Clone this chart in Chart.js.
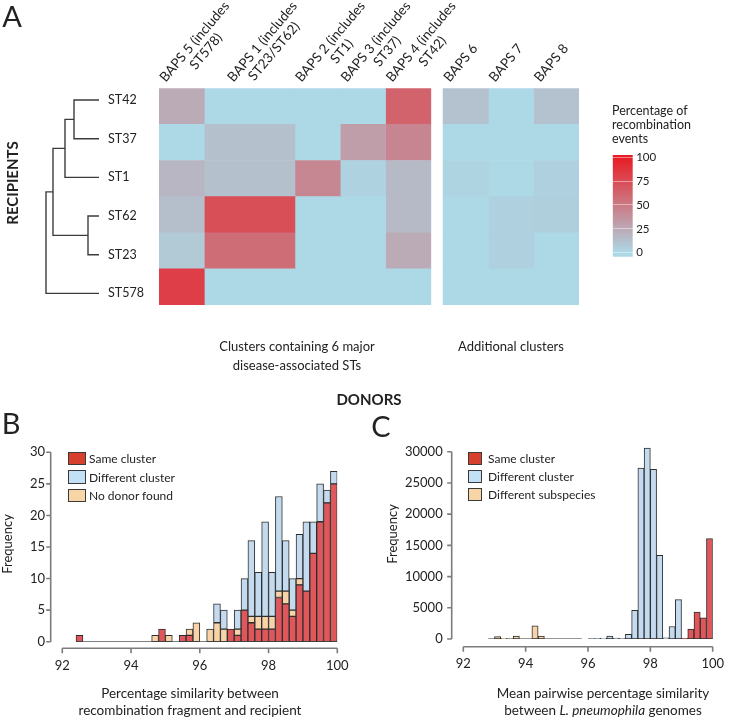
<!DOCTYPE html>
<html>
<head>
<meta charset="utf-8">
<script src="https://cdn.jsdelivr.net/npm/chart.js@4.4.1/dist/chart.umd.min.js"></script>
<style>
  body { margin: 0; background: #fff; font-family: Lato, "Open Sans", sans-serif; color: #222; }
  #page { position: relative; width: 741px; height: 720px; overflow: hidden; }
  canvas { position: absolute; left: 0; top: 0; }
  .t { position: absolute; white-space: nowrap; transform: translate(-50%, -50%); text-align: center; }
  .l { position: absolute; white-space: nowrap; transform: translateY(-50%); }
  .sw { position: absolute; box-sizing: border-box; border: 1px solid #3a3a3a; }
</style>
</head>
<body>
<div id="page">
  <canvas id="dendro" width="741" height="720"></canvas>
  <canvas id="heat" width="741" height="720"></canvas>
  <canvas id="cbar" width="741" height="720"></canvas>
  <canvas id="histB" width="741" height="720"></canvas>
  <canvas id="histC" width="741" height="720"></canvas>

  <div class="t" style="left:12px;top:15px;font-size:29px">A</div>
  <div class="t" style="left:11px;top:422px;font-size:29px">B</div>
  <div class="t" style="left:381px;top:425px;font-size:29px">C</div>

  <div class="t" style="left:12px;top:183px;font-size:15px;font-weight:bold;transform:translate(-50%,-50%) rotate(-90deg)">RECIPIENTS</div>
  <div class="t" style="left:297px;top:356px;font-size:13px;line-height:19px">Clusters containing 6 major<br>disease-associated STs</div>
  <div class="t" style="left:511px;top:346px;font-size:13px">Additional clusters</div>
  <div class="t" style="left:369px;top:399px;font-size:15px;font-weight:bold">DONORS</div>
  <div class="l" style="left:612px;top:125px;font-size:12.5px;line-height:14.2px">Percentage of<br>recombination<br>events</div>

  <div class="t" style="left:7px;top:544px;font-size:13px;transform:translate(-50%,-50%) rotate(-90deg)">Frequency</div>
  <div class="t" style="left:190px;top:702px;font-size:13.5px;line-height:17px">Percentage similarity between<br>recombination fragment and recipient</div>
  <div class="t" style="left:392px;top:534px;font-size:13px;transform:translate(-50%,-50%) rotate(-90deg)">Frequency</div>
  <div class="t" style="left:603px;top:702px;font-size:13.5px;line-height:17px">Mean pairwise percentage similarity<br>between <i>L. pneumophila</i> genomes</div>
  <div id="legends"></div>
</div>

<script>
// ---- panel A: recombination heatmap ----
const recipients = ['ST42', 'ST37', 'ST1', 'ST62', 'ST23', 'ST578'];
const donors = ['BAPS 5', 'BAPS 1', 'BAPS 2', 'BAPS 3', 'BAPS 4', 'BAPS 6', 'BAPS 7', 'BAPS 8'];
const donorLabels = [
  ['BAPS 5 (includes', 'ST578)'],
  ['BAPS 1 (includes', 'ST23/ST62)'],
  ['BAPS 2 (includes', 'ST1)'],
  ['BAPS 3 (includes', 'ST37)'],
  ['BAPS 4 (includes', 'ST42)'],
  ['BAPS 6'], ['BAPS 7'], ['BAPS 8']
];
const colSpan = [1, 2, 1, 1, 1, 1, 1, 1];   // BAPS 1 covers two STs
// percentage of recombination events, one array per recipient (columns follow donors)
const pctST42  = [24, 0, 0, 0, 63, 12, 0, 12];
const pctST37  = [0, 13, 0, 31, 44, 0, 0, 0];
const pctST1   = [18, 13, 43, 3, 16, 2, 0, 4];
const pctST62  = [14, 73, 0, 0, 16, 0, 4, 5];
const pctST23  = [8, 57, 0, 0, 24, 0, 4, 0];
const pctST578 = [82, 0, 0, 0, 0, 0, 0, 0];
const heatRows = [pctST42, pctST37, pctST1, pctST62, pctST23, pctST578];
const legendTicks = [0, 25, 50, 75, 100];

// dendrogram of recipients: pairs of node ids (leaves 0-5, merges 6+) and merge heights
const dendroMerges = [[0, 1], [6, 2], [3, 4], [7, 8], [9, 5]];
const dendroHeights = [25, 34, 11, 46, 53];

// ---- panel B: similarity of recombination fragment to recipient ----
const seriesB = ['Same cluster', 'Different cluster', 'No donor found'];
const binsB = [92.5, 92.7, 92.9, 93.1, 93.3, 93.5, 93.7, 93.9, 94.1, 94.3, 94.5, 94.7, 94.9,
  95.1, 95.3, 95.5, 95.7, 95.9, 96.1, 96.3, 96.5, 96.7, 96.9, 97.1, 97.3, 97.5, 97.7, 97.9,
  98.1, 98.3, 98.5, 98.7, 98.9, 99.1, 99.3, 99.5, 99.7, 99.9];
const sameB =    [1, 0, 0, 0, 0, 0, 0, 0, 0, 0, 0, 0, 2, 0, 0, 1, 1, 0, 0, 0, 0, 0, 2, 1, 5, 3, 2, 2, 2, 7, 6, 4, 9, 8, 14, 19, 22, 25];
const noDonorB = [0, 0, 0, 0, 0, 0, 0, 0, 0, 0, 0, 1, 0, 1, 0, 0, 1, 3, 0, 2, 3, 2, 0, 1, 0, 1, 2, 2, 2, 1, 2, 1, 1, 0, 0, 0, 0, 0];
const diffB =    [0, 0, 0, 0, 0, 0, 0, 0, 0, 0, 0, 0, 0, 0, 0, 0, 0, 0, 0, 0, 3, 3, 0, 3, 5, 12, 7, 15, 7, 15, 8, 5, 7, 11, 5, 6, 2, 2];
const xTicks = [92, 94, 96, 98, 100];
const yTicksB = [0, 5, 10, 15, 20, 25, 30];

// ---- panel C: mean pairwise similarity between genomes ----
const seriesC = ['Same cluster', 'Different cluster', 'Different subspecies'];
const binsC = [92.9, 93.1, 93.3, 93.5, 93.7, 93.9, 94.1, 94.3, 94.5, 94.7, 94.9, 95.1, 95.3, 95.5, 95.7,
  96.1, 96.3, 96.5, 96.7, 96.9, 97.1, 97.3, 97.5, 97.7, 97.9, 98.1, 98.3, 98.5, 98.7, 98.9,
  99.1, 99.3, 99.5, 99.7, 99.9];
const sameC  = [0, 0, 0, 0, 0, 0, 0, 0, 0, 0, 0, 0, 0, 0, 0,
  0, 0, 0, 0, 0, 0, 0, 0, 0, 0, 0, 0, 0, 0, 0, 120, 1600, 4300, 3400, 16100];
const subspC = [0, 400, 120, 0, 450, 0, 0, 2100, 450, 0, 0, 0, 0, 0, 0,
  0, 0, 0, 0, 0, 0, 0, 0, 0, 0, 0, 0, 0, 0, 0, 0, 0, 0, 0, 0];
const diffC  = [0, 0, 0, 0, 0, 0, 0, 0, 0, 0, 0, 0, 0, 0, 0,
  0, 60, 100, 450, 150, 80, 750, 4600, 27400, 30600, 27200, 13400, 200, 2000, 6300, 0, 0, 0, 0, 0];
const yTicksC = [0, 5000, 10000, 15000, 20000, 25000, 30000];

// ---------------------------------------------------------------
const FONT = 'Lato, "Open Sans", sans-serif';
Chart.defaults.font.family = FONT;
Chart.defaults.color = '#222';
Chart.defaults.animation = false;
Chart.defaults.responsive = false;
Chart.defaults.plugins.legend.display = false;
Chart.defaults.plugins.tooltip.enabled = false;

const heatLow = [173, 216, 230];
const heatHigh = [232, 28, 36];
function heatColor(v) {
  const t = Math.max(0, Math.min(1, v / 100));
  const c = heatLow.map((a, i) => Math.round(a + (heatHigh[i] - a) * t));
  return `rgb(${c.join(',')})`;
}

// column extents on the heatmap's x scale (small gap before the additional clusters)
const gapAfter = 4, gapWidth = 0.27;
let cursor = 0;
const colEdges = colSpan.map((w, i) => {
  const e = [cursor, cursor + w];
  cursor += w + (i === gapAfter ? gapWidth : 0);
  return e;
});
const heatWidth = cursor;

// dendrogram
const nodeY = recipients.map((_, i) => i);
const nodeH = recipients.map(() => 0);
const dendroSegments = dendroMerges.map(([a, b], k) => {
  const h = dendroHeights[k];
  nodeY.push((nodeY[a] + nodeY[b]) / 2);
  nodeH.push(h);
  return [
    { x: nodeH[a], y: nodeY[a] }, { x: h, y: nodeY[a] },
    { x: h, y: nodeY[b] }, { x: nodeH[b], y: nodeY[b] }
  ];
});

new Chart(document.getElementById('dendro'), {
  type: 'scatter',
  data: {
    datasets: dendroSegments.map(pts => ({
      data: pts, showLine: true, borderColor: '#3c3c3c', borderWidth: 1.4,
      pointRadius: 0, clip: false
    }))
  },
  options: {
    layout: { padding: { left: 46, top: 80.7, right: 581, bottom: 407.3 } },
    scales: {
      x: { type: 'linear', reverse: true, min: 0, max: 53, display: false },
      y: {
        type: 'linear', position: 'right', reverse: true, min: -0.5, max: 5.5,
        grid: { display: false, drawTicks: false }, border: { display: false },
        ticks: { padding: 9, font: { size: 12.5 }, color: '#222', callback: v => recipients[v] },
        afterBuildTicks: s => { s.ticks = recipients.map((_, i) => ({ value: i })); },
        afterFit: s => { s.width = 61; }
      }
    }
  }
});

const colLabels = {
  id: 'colLabels',
  afterDraw(chart) {
    const { ctx, scales: { x }, chartArea } = chart;
    ctx.save();
    ctx.font = '13.5px ' + FONT;
    ctx.fillStyle = '#222';
    ctx.textBaseline = 'alphabetic';
    donorLabels.forEach((lines, j) => {
      const cx = x.getPixelForValue((colEdges[j][0] + colEdges[j][1]) / 2);
      ctx.save();
      ctx.translate(cx - 16, chartArea.top - 5.5);
      ctx.rotate(-50 * Math.PI / 180);
      const w0 = ctx.measureText(lines[0]).width;
      lines.forEach((s, k) => {
        const w = ctx.measureText(s).width;
        ctx.fillText(s, (w0 - w) / 2, k * 15);
      });
      ctx.restore();
    });
    ctx.restore();
  }
};

new Chart(document.getElementById('heat'), {
  type: 'bar',
  data: {
    labels: recipients,
    datasets: donors.map((name, j) => ({
      label: name,
      data: recipients.map(() => colEdges[j]),
      backgroundColor: heatRows.map(r => heatColor(r[j])),
      borderWidth: 0, grouped: false, barPercentage: 1, categoryPercentage: 1
    }))
  },
  options: {
    indexAxis: 'y',
    layout: { padding: { left: 159, right: 162, top: 88.3, bottom: 415 } },
    scales: {
      x: { type: 'linear', min: 0, max: heatWidth, offset: false, display: false },
      y: { type: 'category', offset: true, display: false }
    }
  },
  plugins: [colLabels]
});

// colour key
const cbarMin = -4.2, cbarMax = 102.4;
new Chart(document.getElementById('cbar'), {
  type: 'bar',
  data: {
    labels: [''],
    datasets: [{
      data: [[cbarMin, cbarMax]],
      backgroundColor: c => {
        const ch = c.chart;
        if (!ch.chartArea) return heatColor(0);
        const y = ch.scales.y;
        const g = ch.ctx.createLinearGradient(0, y.getPixelForValue(0), 0, y.getPixelForValue(100));
        g.addColorStop(0, heatColor(0));
        g.addColorStop(1, heatColor(100));
        return g;
      },
      borderWidth: 0, barPercentage: 1, categoryPercentage: 1
    }]
  },
  options: {
    layout: { padding: { left: 612.7, right: 78.3, top: 155, bottom: 463.3 } },
    scales: {
      x: { display: false },
      y: {
        position: 'right', min: cbarMin, max: cbarMax,
        grid: { color: 'rgba(255,255,255,0.45)', drawTicks: false, z: 1 },
        border: { display: false },
        ticks: { padding: 3.5, font: { size: 11.5 }, color: '#222' },
        afterBuildTicks: s => { s.ticks = legendTicks.map(v => ({ value: v })); },
        afterFit: s => { s.width = 30; }
      }
    }
  }
});

// R-style detached axes for the histograms
const rAxes = {
  id: 'rAxes',
  afterDraw(chart, args, opts) {
    const { ctx, scales: { x, y }, chartArea } = chart;
    const xs = x.ticks.map(t => x.getPixelForValue(t.value));
    const ys = y.ticks.map(t => y.getPixelForValue(t.value));
    const ax = chartArea.left - opts.gapX;
    const ay = chartArea.bottom + opts.gapY;
    ctx.save();
    ctx.strokeStyle = '#7c7c7c';
    ctx.lineWidth = 1.6;
    ctx.beginPath();
    ctx.moveTo(ax, ys[0]); ctx.lineTo(ax, ys[ys.length - 1]);
    ys.forEach(p => { ctx.moveTo(ax, p); ctx.lineTo(ax - 4.5, p); });
    ctx.moveTo(xs[0], ay); ctx.lineTo(xs[xs.length - 1], ay);
    xs.forEach(p => { ctx.moveTo(p, ay); ctx.lineTo(p, ay + 5); });
    ctx.stroke();
    ctx.restore();
  }
};

const barRed = '#e0575b', barBlue = '#c4dbef', barTan = '#f8d3a7';
const barStyle = { borderColor: '#2e2e2e', borderWidth: 1, borderSkipped: false, barPercentage: 1, categoryPercentage: 1 };
const baseStyle = { type: 'line', borderColor: '#2e2e2e', borderWidth: 1, pointRadius: 0 };

function histOptions(pad, yMax, yTicks, yPad, xPad, yWidth, xHeight, gapY) {
  return {
    layout: { padding: pad },
    plugins: { rAxes: { gapX: 11.6, gapY: gapY } },
    scales: {
      x: {
        type: 'linear', min: 92, max: 100, offset: false, stacked: true,
        grid: { display: false, drawTicks: false }, border: { display: false },
        ticks: { padding: xPad, font: { size: 13 }, color: '#222', maxRotation: 0, autoSkip: false, callback: v => String(v) },
        afterBuildTicks: s => { s.ticks = xTicks.map(v => ({ value: v })); },
        afterFit: s => { s.height = xHeight; }
      },
      y: {
        type: 'linear', min: 0, max: yMax, stacked: true,
        grid: { display: false, drawTicks: false }, border: { display: false },
        ticks: { padding: yPad, font: { size: 13 }, color: '#222', autoSkip: false, callback: v => String(v) },
        afterBuildTicks: s => { s.ticks = yTicks.map(v => ({ value: v })); },
        afterFit: s => { s.width = yWidth; }
      }
    }
  };
}

new Chart(document.getElementById('histB'), {
  type: 'bar',
  data: {
    labels: binsB,
    datasets: [
      { label: seriesB[0], data: sameB, backgroundColor: barRed, ...barStyle },
      { label: seriesB[2], data: noDonorB, backgroundColor: barTan, ...barStyle },
      { label: seriesB[1], data: diffB, backgroundColor: barBlue, ...barStyle },
      { ...baseStyle, data: [{ x: binsB[0] - 0.1, y: 0 }, { x: binsB[binsB.length - 1] + 0.1, y: 0 }] }
    ]
  },
  options: histOptions({ left: 0, top: 452.3, right: 403.7, bottom: 0 }, 30, yTicksB, 17.3, 16, 62.3, 78.3, 6.5),
  plugins: [rAxes]
});

new Chart(document.getElementById('histC'), {
  type: 'bar',
  data: {
    labels: binsC,
    datasets: [
      { label: seriesC[0], data: sameC, backgroundColor: barRed, ...barStyle },
      { label: seriesC[2], data: subspC, backgroundColor: barTan, ...barStyle },
      { label: seriesC[1], data: diffC, backgroundColor: barBlue, ...barStyle },
      { ...baseStyle, data: [{ x: binsC[0] - 0.1, y: 0 }, { x: binsC[14] + 0.1, y: 0 }] },
      { ...baseStyle, data: [{ x: binsC[15] - 0.1, y: 0 }, { x: binsC[binsC.length - 1] + 0.1, y: 0 }] }
    ]
  },
  options: histOptions({ left: 370, top: 445.5, right: 11.7, bottom: 0 }, 31000, yTicksC, 20.6, 17, 93.3, 81, 7.7),
  plugins: [rAxes]
});

// legends for B and C
const legendFill = ['#d8402e', '#c2e1f6', '#f7d5a6'];
function addLegend(names, left, top, w, h, step, textLeft) {
  const box = document.getElementById('legends');
  names.forEach((name, i) => {
    const sw = document.createElement('div');
    sw.className = 'sw';
    sw.style.cssText = `left:${left}px;top:${top + i * step}px;width:${w}px;height:${h}px;background:${legendFill[i]}`;
    box.appendChild(sw);
    const tx = document.createElement('div');
    tx.className = 'l';
    tx.style.cssText = `left:${textLeft}px;top:${top + i * step + h / 2}px;font-size:12px`;
    tx.textContent = name;
    box.appendChild(tx);
  });
}
addLegend(seriesB, 68, 451.7, 18, 13.5, 18.5, 89);
addLegend(seriesC, 468, 451.5, 14, 13, 18, 488);
</script>
</body>
</html>
